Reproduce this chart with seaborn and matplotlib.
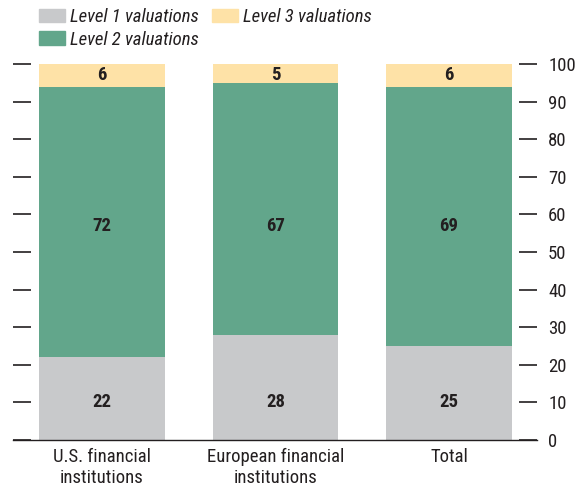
import matplotlib
matplotlib.use("Agg")
import matplotlib.pyplot as plt
import numpy as np
import seaborn as sns

# Data
categories = ["U.S. financial\ninstitutions", "European financial\ninstitutions", "Total"]
level1 = [22, 28, 25]
level2 = [72, 67, 69]
level3 = [6, 5, 6]
series = ["Level 1 valuations", "Level 2 valuations", "Level 3 valuations"]
colors = ["#c8c9cb", "#62a68b", "#fee2a7"]
# the reference puts each series' numbers at one common height
label_y = [10, 57, 97]
text_color = "#231f20"

sns.set_style("white")
plt.rcParams["font.family"] = ["Roboto Condensed", "DejaVu Sans"]

fig = plt.figure(figsize=(5.78, 4.93), dpi=100)
ax = fig.add_axes([0.0225, 0.1075, 0.9065, 0.7625])

bottoms = np.zeros(len(categories))
for name, vals, col, ly in zip(series, [level1, level2, level3], colors, label_y):
    sns.barplot(x=categories, y=vals, bottom=bottoms.copy(), color=col,
                width=0.726, label=name, ax=ax, saturation=1, linewidth=0,
                legend=False)
    for i, v in enumerate(vals):
        ax.text(i, ly, str(v), ha="center", va="center",
                fontsize=13.5, fontweight="bold", color=text_color)
    bottoms += np.array(vals)

if ax.get_legend() is not None:
    ax.get_legend().remove()

ax.set_xlim(-0.513, 2.507)
ax.set_ylim(0, 100)
ax.set_yticks(range(0, 101, 10))
ax.yaxis.tick_right()
ax.tick_params(axis="y", which="both", left=True, right=True, labelleft=False,
               labelright=True, direction="in", length=13, width=1.2,
               color=text_color, labelsize=13.5, labelcolor=text_color, pad=8)
ax.tick_params(axis="x", length=0, labelsize=13.5, labelcolor=text_color, pad=6)
for lbl in ax.get_xticklabels():
    lbl.set_linespacing(1.2)
for s in ["top", "left", "right"]:
    ax.spines[s].set_visible(False)
ax.spines["bottom"].set_color(text_color)
ax.spines["bottom"].set_linewidth(1)
ax.set_xlabel("")
ax.set_ylabel("")

handles = [plt.Rectangle((0, 0), 1, 1, color=c) for c in colors]
fig.legend(handles, series, loc="upper left", bbox_to_anchor=(0.0675, 0.983),
           ncol=2, frameon=False, prop={"style": "italic", "size": 13.5},
           handlelength=1.4, handleheight=0.7, handletextpad=0.25,
           columnspacing=0.7, labelspacing=0.22, borderpad=0, borderaxespad=0,
           labelcolor=text_color)

plt.savefig("out.png", dpi=100)
